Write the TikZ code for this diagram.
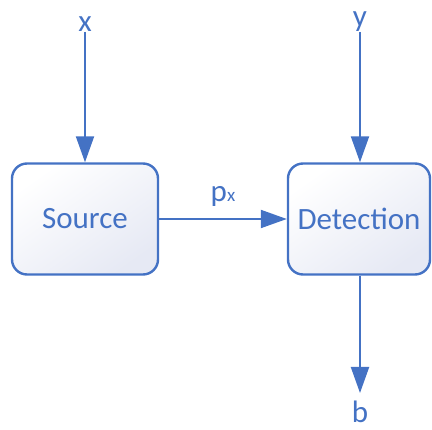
\documentclass[tikz,border=0pt]{standalone}
\usepackage{fontspec}
\setmainfont{Carlito}
\usetikzlibrary{arrows.meta}
\definecolor{lineblue}{HTML}{4472C4}
\definecolor{boxfill}{HTML}{E6E9F4}
\tikzset{
  block/.style={draw=lineblue, line width=2.4pt, rounded corners=15pt,
    top color=white, bottom color=boxfill, shading angle=35,
    minimum height=111pt, text=lineblue, inner sep=0pt},
  lbl/.style={text=lineblue, inner sep=0pt},
  flow/.style={draw=lineblue, line width=2pt, -{Triangle[length=26pt,width=18pt]}}
}
\begin{document}
\begin{tikzpicture}[x=1pt, y=-1pt, font=\fontsize{31}{36}\selectfont]
  \useasboundingbox (0,0) rectangle (432,430);
  \node[block, minimum width=146pt] (src) at (85,219) {Source};
  \node[block, minimum width=142pt] (det) at (359,219) {Detection};
  \node[lbl, anchor=south] (x) at (85,32) {x};
  \node[lbl, anchor=south] (y) at (360,32) {y};
  \node[lbl, anchor=north, inner ysep=8pt] (b) at (360,393) {b};
  \draw[flow] (x) -- ++(0,12) -- (src);
  \draw[flow] (y) -- ++(0,12) -- (y |- det.north);
  \draw[flow] (b |- det.south) -- (b);
  \draw[flow] (src) -- node[lbl, above=12pt] (px) {p{\fontsize{19}{20}\selectfont x}} (det);
\end{tikzpicture}
\end{document}
